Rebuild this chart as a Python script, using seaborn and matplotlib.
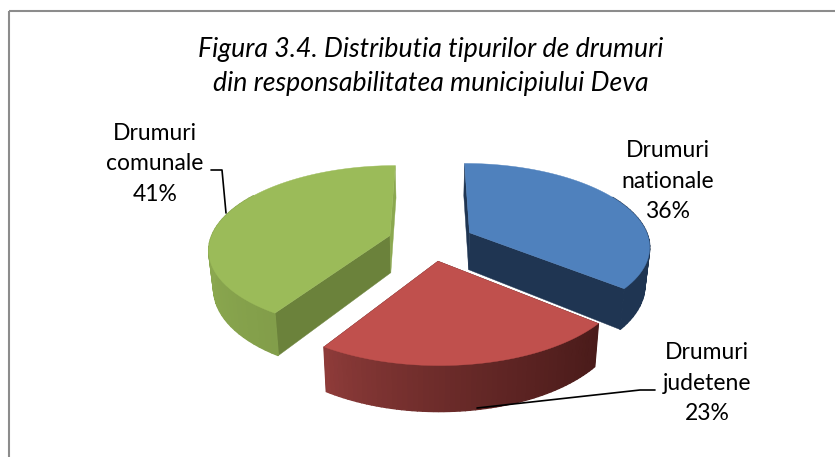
import numpy as np
import pandas as pd
import matplotlib
matplotlib.use("Agg")
import matplotlib.pyplot as plt
from matplotlib.patches import Rectangle
import seaborn as sns

# data
categories = ["Drumuri\nnationale", "Drumuri\njudetene", "Drumuri\ncomunale"]
shares = [36, 23, 41]
title_lines = ["Figura 3.4. Distributia tipurilor de drumuri",
               "din responsabilitatea municipiului Deva"]

# colours for top face, and left/right ends of the outer wall, cut wall
top_colors = ["#4f81bd", "#c0504d", "#9bbb59"]
wall_left = ["#1f3552", "#8f3c3a", "#8ba84f"]
wall_right = ["#1f3552", "#4a1b1a", "#7a9445"]
cut_colors = ["#1f3552", "#4a1b1a", "#6b823b"]

# fake 3d pie geometry, in pixels
CX, CY = 431, 241
A, B = 180, 82
PERSP = 0.15
DEPTH = 37.5
TAPER = 0.022
EXPLODE = 0.24

sns.set_theme(style="white")
plt.rcParams["font.family"] = ["Lato", "DejaVu Sans"]

df = pd.DataFrame({"label": categories, "share": shares})
df["start"] = df["share"].cumsum().shift(fill_value=0) / df["share"].sum() * 2 * np.pi
df["end"] = df["share"].cumsum() / df["share"].sum() * 2 * np.pi


def project(x, y, z=0.0):
    s = 1 / (1 + PERSP * y)
    return CX + A * x * s * (1 - TAPER * z), CY - B * y * s + DEPTH * s * z


def blend(c1, c2, t):
    c1 = np.array(matplotlib.colors.to_rgb(c1))
    c2 = np.array(matplotlib.colors.to_rgb(c2))
    return tuple(c1 + (c2 - c1) * t)


fig = plt.figure(figsize=(8.35, 4.57), dpi=100)
ax = fig.add_axes([0, 0, 1, 1])
ax.set_xlim(0, 835)
ax.set_ylim(457, 0)
ax.axis("off")

ax.add_patch(Rectangle((9, 11), 900, 600, fill=False, ec="#8c8c8c", lw=1.5))

# green and blue are behind, red goes last
for i in [2, 0, 1]:
    row = df.iloc[i]
    mid = (row["start"] + row["end"]) / 2
    ox, oy = EXPLODE * np.sin(mid), EXPLODE * np.cos(mid)
    th = np.linspace(row["start"], row["end"], 60)
    xs, ys = ox + np.sin(th), oy + np.cos(th)

    # cut walls
    for ang in [row["start"], row["end"]]:
        ex, ey = ox + np.sin(ang), oy + np.cos(ang)
        p = [project(ox, oy), project(ex, ey), project(ex, ey, 1), project(ox, oy, 1)]
        col = cut_colors[i]
        if i == 2 and ang == row["end"]:
            col = "#8ba84f"
        ax.fill(*zip(*p), color=col, lw=0.3, zorder=2 + i * 0.01)

    # outer wall, small quads so the shading runs across it
    xl, xr = xs.min(), xs.max()
    for j in range(len(th) - 1):
        if np.cos(th[j]) > 0.5:
            continue  # hidden behind the top face
        p = [project(xs[j], ys[j]), project(xs[j + 1], ys[j + 1]),
             project(xs[j + 1], ys[j + 1], 1), project(xs[j], ys[j], 1)]
        t = ((xs[j] + xs[j + 1]) / 2 - xl) / (xr - xl)
        c = blend(wall_left[i], wall_right[i], t ** 0.8)
        ax.fill(*zip(*p), color=c, lw=1.0, zorder=3)

    # top face
    px, py = project(np.r_[ox, xs], np.r_[oy, ys])
    ax.fill(px, py, color=top_colors[i], lw=0.3, zorder=4)

# title
ax.text(431, 49, title_lines[0], ha="center", va="center", style="italic", fontsize=19.2, color="black")
ax.text(431, 83, title_lines[1], ha="center", va="center", style="italic", fontsize=19.2, color="black")

# labels
label_pos = [(668, 181), (707, 383), (155, 164)]
for (lx, ly), lab, val in zip(label_pos, categories, shares):
    ax.text(lx, ly, f"{lab}\n{val}%", ha="center", va="center", fontsize=16.5,
            color="black", linespacing=1.55)

# leader lines
ax.plot([226, 222, 211], [213, 170, 170], color="black", lw=1.2, zorder=5)
ax.plot([477, 640, 655], [408, 390, 390], color="black", lw=1.2, zorder=5)

fig.savefig("out.png", dpi=100)
